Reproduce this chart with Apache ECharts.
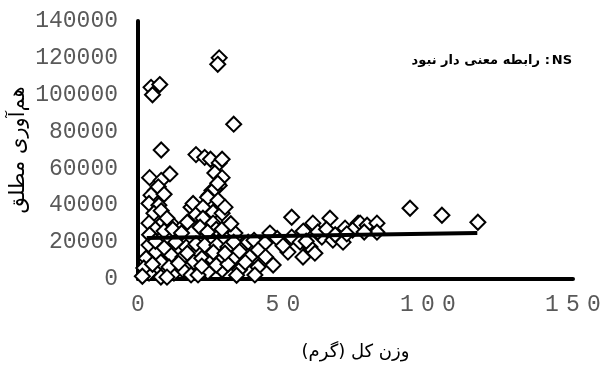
<!DOCTYPE html>
<html>
<head>
<meta charset="utf-8">
<script src="https://cdn.jsdelivr.net/npm/echarts@6/dist/echarts.min.js"></script>
<style>html,body{margin:0;padding:0;background:#fff}#c{width:604px;height:369px}</style>
</head>
<body>
<div id="c"></div>
<script>
// Total weight (g)
var weights = [
 28,27.5,4.5,7.5,5,33,8,
 20,23,25,28,29,26.5,29,28,25.5,24.5,26.5,27.5,
 4,11,8,6,4.5,7,9,
 3.8,7.2,5.5,8.6,11.4,3.8,18.3,17,19,8,10,6,9,4,12,20,15,
 24,27.6,22.4,25.9,29,22.4,25.9,21.4,33.4,27,30,24,29,32,
 3.8,6.2,2.8,7.9,11.4,15.5,19.3,3.8,7.9,12.4,15.5,18.3,10.7,16.6,2,5,9,13,6,1.5,10,14,17,20,
 23,27.2,31,36.2,22,25.9,29.3,33.4,24.1,29,20.7,38.6,22,27,31,35,33,26,30,35,38,40,34,37,
 53,60.3,66.2,71.4,75.9,79,45.5,53,55.9,59.3,63.4,67.2,70.7,43.8,41.4,51.7,56.9,61,46.6,41.4,40.3,48,57,62,65,68,50,44,58,
 93.8,104.8,117.2,76.6,79,82.4,82.4,74,72,78
];
// Absolute fecundity
var fecundity = [
 120000,116500,104000,105500,100000,84000,70000,
 67500,66000,65000,63000,65000,57500,55000,50800,48000,45500,49000,52000,
 55000,57000,53500,48000,45500,50000,46000,
 41000,40000,35700,30800,30300,30300,38900,30800,41000,37000,33000,27000,26000,24000,27000,35000,25000,
 44300,42700,38900,36200,35700,33000,30300,28100,24900,27000,39000,25500,27000,30000,
 18400,14600,11300,9200,13000,11900,9200,3200,1100,3200,4900,2200,6500,17300,6000,8000,17000,20000,20500,1500,1000,8500,14000,19000,
 18400,18400,17300,18400,11300,10300,11300,11900,3800,4900,2200,11900,7000,7500,8000,5000,20000,14500,14000,15000,20000,21000,2000,9000,
 33500,30300,33000,27600,30300,28100,24900,22700,20000,17300,22700,21100,20000,19500,15700,14600,11900,14000,7600,6500,2200,22000,26000,25500,27000,24000,18000,12000,20500,
 38400,34600,30800,30300,29200,30300,25400,26500,24500,25500
];
// Linear trend line end points
var trendX = [3, 117];
var trendY = [22200, 24900];

var xTicks = [0, 50, 100, 150];
var yTicks = [0, 20000, 40000, 60000, 80000, 100000, 120000, 140000];

var points = weights.map(function (w, i) { return [w, fecundity[i]]; });
var trend = trendX.map(function (x, i) { return [x, trendY[i]]; });

var chart = echarts.init(document.getElementById('c'), null, {renderer: 'canvas'});
var noteFont = {fontFamily: 'DejaVu Sans', fontWeight: 'bold', fontSize: 13, fill: '#000'};
chart.setOption({
  animation: false,
  backgroundColor: '#fff',
  grid: {left: 138, right: 31, top: 21, bottom: 90, containLabel: false, outerBoundsMode: 'none'},
  xAxis: {
    type: 'value', min: xTicks[0], max: xTicks[xTicks.length - 1], interval: 50,
    name: 'وزن کل (گرم)', nameLocation: 'middle', nameGap: 64, nameMoveOverlap: false,
    nameTextStyle: {fontFamily: 'DejaVu Sans', fontSize: 18, color: '#000'},
    axisLine: {show: true, onZero: false, lineStyle: {color: '#000', width: 4}},
    axisTick: {show: false}, splitLine: {show: false},
    axisLabel: {
      margin: 14, color: '#595959', fontFamily: 'Liberation Mono', fontSize: 23,
      formatter: function (v) { return String(v).split('').join('{sp| }'); },
      rich: {sp: {fontFamily: 'Liberation Mono', fontSize: 12}}
    }
  },
  yAxis: {
    type: 'value', min: yTicks[0], max: yTicks[yTicks.length - 1], interval: 20000,
    name: 'هم‌آوری مطلق', nameLocation: 'middle', nameGap: 109, nameRotate: 90, nameMoveOverlap: false,
    nameTextStyle: {fontFamily: 'DejaVu Sans', fontSize: 21, color: '#000'},
    axisLine: {show: true, onZero: false, lineStyle: {color: '#000', width: 4}},
    axisTick: {show: false}, splitLine: {show: false},
    axisLabel: {margin: 20, color: '#595959', fontFamily: 'Liberation Mono', fontSize: 23,
      formatter: function (v) { return String(v); }}
  },
  graphic: [{
    type: 'text', right: 32, top: 54, z: 100,
    style: Object.assign({text: 'NS'}, noteFont)
  }, {
    type: 'text', right: 54, top: 54, z: 100,
    style: Object.assign({text: ':'}, noteFont)
  }, {
    type: 'text', right: 64, top: 54, z: 100,
    style: Object.assign({text: 'رابطه معنی دار نبود'}, noteFont)
  }],
  series: [{
    type: 'scatter', data: points, symbol: 'diamond', symbolSize: 15,
    itemStyle: {color: '#fff', borderColor: '#000', borderWidth: 2, opacity: 1},
    z: 2
  }, {
    type: 'line', data: trend, symbol: 'none', z: 5,
    lineStyle: {color: '#000', width: 4}
  }]
});
</script>
</body>
</html>
